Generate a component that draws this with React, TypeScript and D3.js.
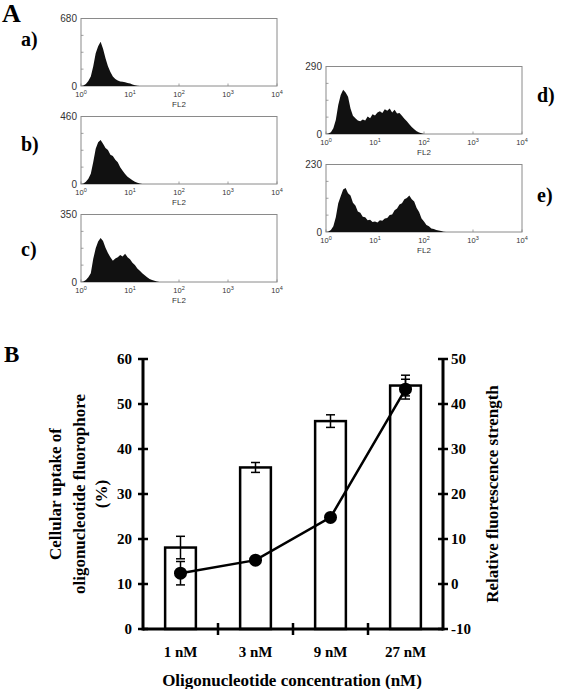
import React from "react";
import * as d3 from "d3";

// ---------- Panel A: flow cytometry histograms (counts per channel, 0.05-decade channels from 10^0) ----------
const BIN_STEP = 0.05;
const histA = [0, 5, 20, 50, 95, 200, 330, 400, 445, 375, 280, 200, 140, 95, 70, 55, 45, 42, 38, 30, 25, 15, 8, 3, 0];
const histB = [0, 3, 15, 35, 70, 150, 240, 285, 300, 275, 245, 232, 200, 190, 165, 148, 115, 90, 68, 50, 38, 25, 15, 9, 4, 0];
const histC = [0, 3, 10, 25, 45, 120, 175, 210, 228, 212, 178, 150, 128, 110, 122, 128, 140, 132, 147, 128, 118, 100, 88, 70, 58, 45, 35, 25, 15, 10, 6, 3, 0];
const histD = [0, 2, 8, 25, 60, 125, 168, 190, 178, 160, 110, 78, 68, 58, 55, 62, 58, 75, 68, 85, 80, 92, 98, 90, 106, 100, 110, 92, 104, 88, 90, 78, 66, 55, 42, 30, 20, 12, 6, 3, 0];
const histE = [0, 2, 7, 20, 50, 98, 122, 145, 150, 132, 124, 100, 90, 70, 66, 52, 50, 40, 42, 34, 36, 32, 40, 38, 46, 48, 58, 60, 74, 80, 94, 98, 112, 116, 124, 112, 104, 82, 68, 46, 36, 24, 20, 12, 10, 7, 5, 3, 1, 0];
const histMax = [680, 460, 350, 290, 230];
const histLetters = ["a)", "b)", "c)", "d)", "e)"];
const decadeTicks = [0, 1, 2, 3, 4];

// ---------- Panel B ----------
const concentrations = ["1 nM", "3 nM", "9 nM", "27 nM"];
const uptake = [18.1, 35.9, 46.2, 54.1];
const uptakeErr = [2.5, 1.1, 1.4, 2.3];
const fluorescence = [2.4, 5.3, 14.8, 43.3];
const fluorescenceErr = [2.6, 0.5, 0.8, 2.2];
const leftTicks = [0, 10, 20, 30, 40, 50, 60];
const rightTicks = [-10, 0, 10, 20, 30, 40, 50];

const serif = "'Liberation Serif', 'Times New Roman', serif";
const sans = "'Liberation Sans', Arial, sans-serif";

const histLayout = [
  { x: 81, y: 18.5, lx: 21, ly: 46 },
  { x: 81, y: 116.5, lx: 21, ly: 151 },
  { x: 81, y: 214.5, lx: 21, ly: 256 },
  { x: 326, y: 66.5, lx: 537, ly: 102 },
  { x: 326, y: 164.5, lx: 537, ly: 202 },
];
const HW = 196;
const HH = 67.5;

function Histogram({ data, max, letter, box }) {
  const x = d3.scaleLinear().domain([0, 4]).range([box.x, box.x + HW]);
  const y = d3.scaleLinear().domain([0, max]).range([box.y + HH, box.y]);
  const pts = data.map((v, i) => [i * BIN_STEP, v]);
  const area = d3
    .area()
    .x((d) => x(d[0]))
    .y0(y(0))
    .y1((d) => y(d[1]))
    .curve(d3.curveLinear);
  const bottom = box.y + HH;
  return (
    <g>
      <rect x={box.x} y={box.y} width={HW} height={HH} fill="none" stroke="#8a8a8a" strokeWidth={1} />
      {[0.25, 0.5, 0.75].map((f) => (
        <line key={f} x1={box.x} x2={box.x + 2.5} y1={y(max * f)} y2={y(max * f)} stroke="#8a8a8a" strokeWidth={0.8} />
      ))}
      {decadeTicks.map((t) => (
        <line key={t} x1={x(t)} x2={x(t)} y1={bottom} y2={bottom - 2.5} stroke="#8a8a8a" strokeWidth={0.8} />
      ))}
      <path d={area(pts)} fill="#111" />
      <text x={box.x - 4} y={box.y + 3.5} textAnchor="end" fontFamily={sans} fontSize={10} fill="#333">
        {max}
      </text>
      <text x={box.x - 4} y={bottom + 3.5} textAnchor="end" fontFamily={sans} fontSize={10} fill="#333">
        0
      </text>
      {decadeTicks.map((t) => (
        <text key={t} x={x(t)} y={bottom + 10.5} textAnchor="middle" fontFamily={sans} fontSize={7.5} fill="#333">
          10
          <tspan fontSize={5.5} dy={-3}>
            {t}
          </tspan>
        </text>
      ))}
      <text x={x(2)} y={bottom + 20.5} textAnchor="middle" fontFamily={sans} fontSize={8} fill="#333">
        FL2
      </text>
      <text x={box.lx} y={box.ly} fontFamily={serif} fontWeight="bold" fontSize={20} fill="#000">
        {letter}
      </text>
    </g>
  );
}

export default function App() {
  const hists = [histA, histB, histC, histD, histE];

  const left = 143;
  const right = 443;
  const y0 = 629;
  const yTop = 359;
  const yL = d3.scaleLinear().domain([0, 60]).range([y0, yTop]);
  const yR = d3.scaleLinear().domain([-10, 50]).range([y0, yTop]);
  const xB = d3.scaleBand().domain(concentrations).range([left, right]).paddingInner(0.59).paddingOuter(0.295);
  const bw = xB.bandwidth();
  const cx = (c) => xB(c) + bw / 2;
  const step = xB.step();
  const line = d3
    .line()
    .x((d) => cx(d[0]))
    .y((d) => yR(d[1]));
  const linePts = concentrations.map((c, i) => [c, fluorescence[i]]);
  const catTicks = concentrations.slice(1).map((c) => cx(c) - step / 2);
  const capW = 4.5;

  return (
    <svg width={567} height={689} style={{ position: "absolute", left: 0, top: 0, background: "#fff" }}>
      <rect x={0} y={0} width={567} height={689} fill="#fff" />
      <text x={2} y={22} fontFamily={serif} fontWeight="bold" fontSize={26}>
        A
      </text>
      {hists.map((h, i) => (
        <Histogram key={i} data={h} max={histMax[i]} letter={histLetters[i]} box={histLayout[i]} />
      ))}

      {/* Panel B */}
      <text x={4} y={362} fontFamily={serif} fontWeight="bold" fontSize={23}>
        B
      </text>
      {concentrations.map((c, i) => (
        <rect key={c} x={xB(c)} y={yL(uptake[i])} width={bw} height={y0 - yL(uptake[i])} fill="#fff" stroke="#000" strokeWidth={2.5} />
      ))}
      {concentrations.map((c, i) => (
        <g key={c} stroke="#000" strokeWidth={1.5}>
          <line x1={cx(c)} x2={cx(c)} y1={yL(uptake[i] + uptakeErr[i])} y2={yL(uptake[i] - uptakeErr[i])} />
          <line x1={cx(c) - capW} x2={cx(c) + capW} y1={yL(uptake[i] + uptakeErr[i])} y2={yL(uptake[i] + uptakeErr[i])} />
          <line x1={cx(c) - capW} x2={cx(c) + capW} y1={yL(uptake[i] - uptakeErr[i])} y2={yL(uptake[i] - uptakeErr[i])} />
        </g>
      ))}
      <path d={line(linePts)} fill="none" stroke="#000" strokeWidth={2.5} />
      {concentrations.map((c, i) => (
        <g key={c} stroke="#000" strokeWidth={1.5}>
          <line x1={cx(c)} x2={cx(c)} y1={yR(fluorescence[i] + fluorescenceErr[i])} y2={yR(fluorescence[i] - fluorescenceErr[i])} />
          <line x1={cx(c) - capW} x2={cx(c) + capW} y1={yR(fluorescence[i] + fluorescenceErr[i])} y2={yR(fluorescence[i] + fluorescenceErr[i])} />
          <line x1={cx(c) - capW} x2={cx(c) + capW} y1={yR(fluorescence[i] - fluorescenceErr[i])} y2={yR(fluorescence[i] - fluorescenceErr[i])} />
        </g>
      ))}
      {concentrations.map((c, i) => (
        <circle key={c} cx={cx(c)} cy={yR(fluorescence[i])} r={6.5} fill="#000" />
      ))}

      <line x1={left} x2={left} y1={yTop - 1} y2={y0 + 1.5} stroke="#000" strokeWidth={3} />
      <line x1={right} x2={right} y1={yTop - 1} y2={y0 + 1.5} stroke="#000" strokeWidth={3} />
      <line x1={left} x2={right} y1={y0} y2={y0} stroke="#000" strokeWidth={3} />
      {leftTicks.map((t) => (
        <g key={t}>
          <line x1={left - 5} x2={left + 5} y1={yL(t)} y2={yL(t)} stroke="#000" strokeWidth={2.5} />
          <text x={left - 11} y={yL(t) + 5} textAnchor="end" fontFamily={serif} fontWeight="bold" fontSize={15}>
            {t}
          </text>
        </g>
      ))}
      {rightTicks.map((t) => (
        <g key={t}>
          <line x1={right - 5} x2={right + 5} y1={yR(t)} y2={yR(t)} stroke="#000" strokeWidth={2.5} />
          <text x={right + 8} y={yR(t) + 5} textAnchor="start" fontFamily={serif} fontWeight="bold" fontSize={15}>
            {t}
          </text>
        </g>
      ))}
      {catTicks.map((t, i) => (
        <line key={i} x1={t} x2={t} y1={y0 - 6} y2={y0 + 6} stroke="#000" strokeWidth={2.5} />
      ))}
      {concentrations.map((c) => (
        <text key={c} x={cx(c)} y={657} textAnchor="middle" fontFamily={serif} fontWeight="bold" fontSize={15}>
          {c}
        </text>
      ))}
      <text x={292} y={686} textAnchor="middle" fontFamily={serif} fontWeight="bold" fontSize={17}>
        Oligonucleotide concentration (nM)
      </text>
      <g transform="translate(0,494) rotate(-90)" fontFamily={serif} fontWeight="bold" fontSize={17} textAnchor="middle">
        <text x={0} y={61}>Cellular uptake of</text>
        <text x={0} y={85}>oligonucleotide fluorophore</text>
        <text x={0} y={107}>(%)</text>
      </g>
      <text transform="translate(498,494) rotate(-90)" textAnchor="middle" fontFamily={serif} fontWeight="bold" fontSize={17}>
        Relative fluorescence strength
      </text>
    </svg>
  );
}
